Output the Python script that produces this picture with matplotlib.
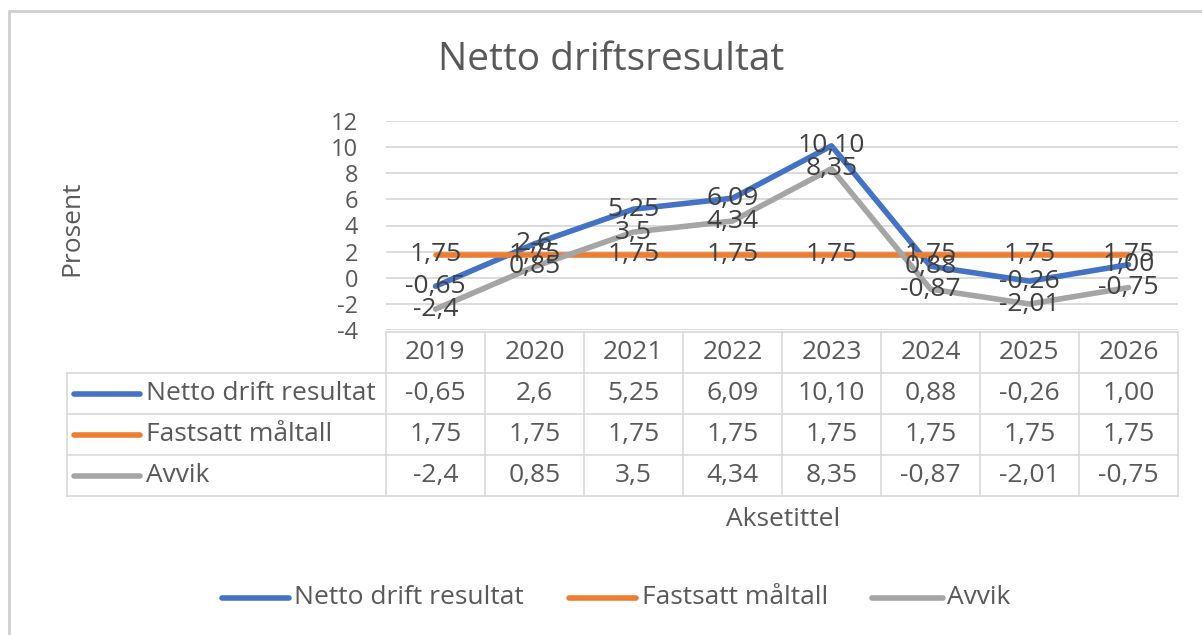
import matplotlib
matplotlib.use("Agg")
import matplotlib.pyplot as plt
from matplotlib import transforms

plt.rcParams['font.family'] = ['Open Sans', 'DejaVu Sans']
plt.rcParams['axes.unicode_minus'] = False

# ---- data ----
years = ['2019', '2020', '2021', '2022', '2023', '2024', '2025', '2026']
netto = [-0.65, 2.6, 5.25, 6.09, 10.10, 0.88, -0.26, 1.00]
maltall = [1.75, 1.75, 1.75, 1.75, 1.75, 1.75, 1.75, 1.75]
avvik = [-2.4, 0.85, 3.5, 4.34, 8.35, -0.87, -2.01, -0.75]
netto_labels = ['-0,65', '2,6', '5,25', '6,09', '10,10', '0,88', '-0,26', '1,00']
maltall_labels = ['1,75', '1,75', '1,75', '1,75', '1,75', '1,75', '1,75', '1,75']
avvik_labels = ['-2,4', '0,85', '3,5', '4,34', '8,35', '-0,87', '-2,01', '-0,75']
series_names = ['Netto drift resultat', 'Fastsatt måltall', 'Avvik']
yticks = [-4, -2, 0, 2, 4, 6, 8, 10, 12]

colors = ['#4472C4', '#ED7D31', '#A5A5A5']
txt = '#595959'
grid_c = '#D9D9D9'
FS = 19

W, H = 1202, 635
fig = plt.figure(figsize=(W / 100, H / 100), dpi=100)
fig.patch.set_facecolor('white')

# overlay in pixel coordinates
ov = fig.add_axes([0, 0, 1, 1])
ov.set_xlim(0, W)
ov.set_ylim(H, 0)
ov.axis('off')

# main plot axes
x0, x1, ytop, ybot = 386, 1178, 121, 330
ax = fig.add_axes([x0 / W, (H - ybot) / H, (x1 - x0) / W, (ybot - ytop) / H])
ax.set_facecolor('none')
ax.set_xlim(-0.5, len(years) - 0.5)
ax.set_ylim(-4, 12)
ax.set_yticks(yticks)
ax.set_xticks([])
for s in ax.spines.values():
    s.set_visible(False)
ax.grid(axis='y', color=grid_c, lw=1.3)
ax.set_axisbelow(True)
ax.tick_params(axis='y', length=0, pad=20, labelsize=17, labelcolor=txt)

xs = list(range(len(years)))
all_vals = [netto, maltall, avvik]
all_labs = [netto_labels, maltall_labels, avvik_labels]
for k, (vals, c) in enumerate(zip(all_vals, colors)):
    ax.plot(xs, vals, color=c, lw=4.0, solid_capstyle='round',
            solid_joinstyle='round', zorder=2 + k)
for vals, labs in zip(all_vals, all_labs):
    for xi, v, lab in zip(xs, vals, labs):
        ax.text(xi, v, lab, ha='center', va='center', fontsize=FS,
                color='#404040', zorder=10)

# frame
ov.plot([9, 9, W], [H, 11, 11], color='#CFCFCF', lw=2)

# title and axis titles
ov.text(611, 60, 'Netto driftsresultat', ha='center', va='center',
        fontsize=28, color=txt)
ov.text(72, 228, 'Prosent', ha='center', va='center', rotation=90,
        fontsize=FS, color=txt)
ov.text(783, 520, 'Aksetittel', ha='center', va='center',
        fontsize=FS, color=txt)

# data table
bt = transforms.blended_transform_factory(ax.transData, ov.transData)
row_y = [332, 373, 414, 455, 496]
n = len(years)
lw_t = 1.2
for i in range(n + 1):
    ov.plot([i - 0.5, i - 0.5], [row_y[0], row_y[-1]], color=grid_c, lw=lw_t,
            transform=bt)
ov.plot([-0.5, n - 0.5], [row_y[0], row_y[0]], color=grid_c, lw=lw_t, transform=bt)
for yy in row_y[1:]:
    ov.plot([-0.5, n - 0.5], [yy, yy], color=grid_c, lw=lw_t, transform=bt)
    ov.plot([67, x0], [yy, yy], color=grid_c, lw=lw_t)
ov.plot([67, 67], [row_y[1], row_y[-1]], color=grid_c, lw=lw_t)

hy = (row_y[0] + row_y[1]) / 2
for xi, yr in zip(xs, years):
    ov.text(xi, hy, yr, ha='center', va='center', fontsize=FS, color=txt,
            transform=bt)
for r, (name, labs, c) in enumerate(zip(series_names, all_labs, colors)):
    cy = (row_y[r + 1] + row_y[r + 2]) / 2
    ov.plot([74, 140], [cy, cy], color=c, lw=4.0, solid_capstyle='round')
    ov.text(146, cy, name, ha='left', va='center', fontsize=FS, color=txt)
    for xi, lab in zip(xs, labs):
        ov.text(xi, cy, lab, ha='center', va='center', fontsize=FS, color=txt,
                transform=bt)

# legend
leg_y = 598
leg_items = [(222, 289, 294), (569, 636, 642), (872, 943, 947)]
for (la, lb, tx), name, c in zip(leg_items, series_names, colors):
    ov.plot([la, lb], [leg_y, leg_y], color=c, lw=4.0, solid_capstyle='round')
    ov.text(tx, leg_y, name, ha='left', va='center', fontsize=FS, color=txt)

fig.savefig('out.png', dpi=100, facecolor='white')
